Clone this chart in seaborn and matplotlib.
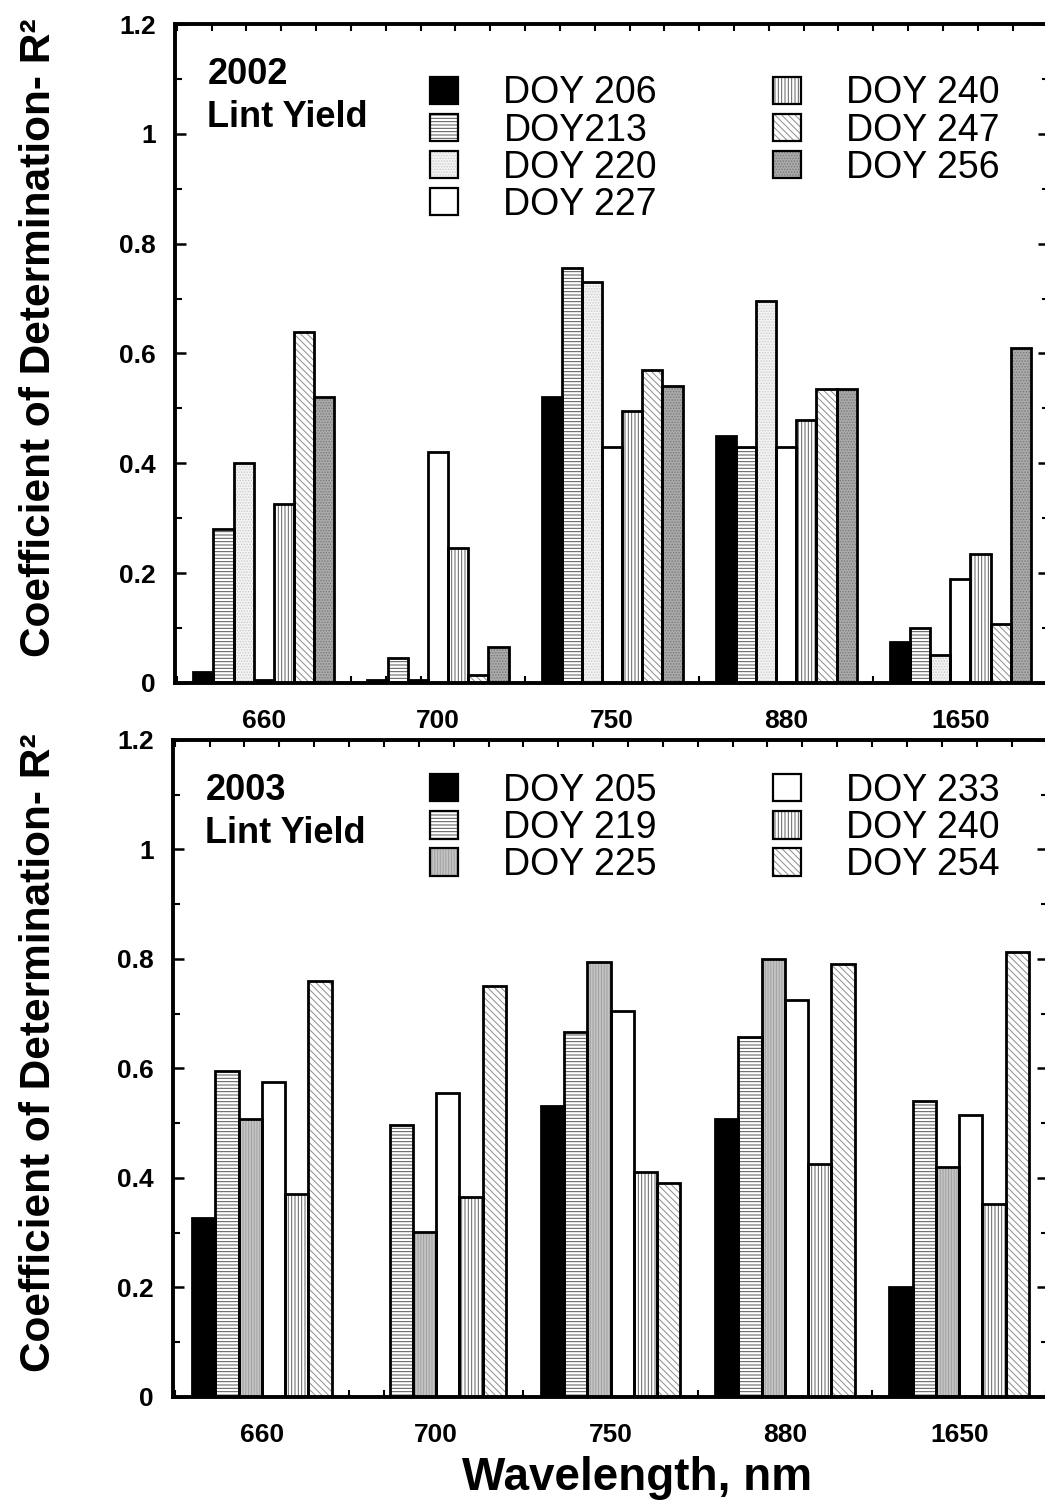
import matplotlib
matplotlib.use("Agg")
import matplotlib.pyplot as plt
import numpy as np
import pandas as pd
import seaborn as sns
from matplotlib.patches import Patch
from matplotlib.legend_handler import HandlerTuple
from matplotlib.ticker import MultipleLocator, FixedLocator

# ---- data ----
wavelengths = ["660", "700", "750", "880", "1650"]
y_ticks = [0, 0.2, 0.4, 0.6, 0.8, 1.0, 1.2]
y_tick_labels = ["0", "0.2", "0.4", "0.6", "0.8", "1", "1.2"]

doy_2002 = ["DOY 206", "DOY213", "DOY 220", "DOY 227", "DOY 240", "DOY 247", "DOY 256"]
r2_2002 = {
    "DOY 206": [0.02, 0.005, 0.52, 0.45, 0.075],
    "DOY213":  [0.28, 0.045, 0.755, 0.43, 0.10],
    "DOY 220": [0.40, 0.005, 0.73, 0.695, 0.05],
    "DOY 227": [0.005, 0.42, 0.43, 0.43, 0.19],
    "DOY 240": [0.325, 0.245, 0.495, 0.478, 0.235],
    "DOY 247": [0.64, 0.015, 0.57, 0.535, 0.108],
    "DOY 256": [0.52, 0.065, 0.54, 0.535, 0.61],
}

doy_2003 = ["DOY 205", "DOY 219", "DOY 225", "DOY 233", "DOY 240", "DOY 254"]
r2_2003 = {
    "DOY 205": [0.327, 0.0, 0.532, 0.507, 0.20],
    "DOY 219": [0.595, 0.497, 0.667, 0.657, 0.54],
    "DOY 225": [0.507, 0.302, 0.795, 0.80, 0.42],
    "DOY 233": [0.575, 0.555, 0.705, 0.725, 0.515],
    "DOY 240": [0.37, 0.365, 0.41, 0.425, 0.352],
    "DOY 254": [0.76, 0.75, 0.39, 0.79, 0.812],
}

# fill style per series: (facecolor, hatch, hatch colour)
style_2002 = {
    "DOY 206": ("black", "", "black"),
    "DOY213":  ("white", "-----", "#555555"),
    "DOY 220": ("#f3f3f3", "......", "#cccccc"),
    "DOY 227": ("white", "", "white"),
    "DOY 240": ("white", "|||||", "#606060"),
    "DOY 247": ("white", "\\\\\\\\\\", "#8c8c8c"),
    "DOY 256": ("#aaaaaa", "......", "#7a7a7a"),
}
style_2003 = {
    "DOY 205": ("black", "", "black"),
    "DOY 219": ("white", "-----", "#555555"),
    "DOY 225": ("#c4c4c4", "||||||", "#a0a0a0"),
    "DOY 233": ("white", "", "white"),
    "DOY 240": ("white", "|||||", "#606060"),
    "DOY 254": ("white", "\\\\\\\\\\", "#8c8c8c"),
}


def long_table(series, order):
    rows = []
    for doy in order:
        for wl, v in zip(wavelengths, series[doy]):
            rows.append({"wavelength": wl, "doy": doy, "r2": v})
    return pd.DataFrame(rows)


sns.set_theme(style="white")
plt.rcParams["font.family"] = ["Liberation Sans", "DejaVu Sans"]
plt.rcParams["text.color"] = "black"
plt.rcParams["xtick.color"] = "black"
plt.rcParams["ytick.color"] = "black"
plt.rcParams["hatch.linewidth"] = 0.7

fig = plt.figure(figsize=(10.45, 15), dpi=100)
ax1 = fig.add_axes([0.1675, 0.5447, 0.8365, 0.4393])
ax2 = fig.add_axes([0.1655, 0.0687, 0.8375, 0.4380])


def draw_panel(ax, series, order, style, year, legend_anchor, width, colspace):
    df = long_table(series, order)
    faces = {k: style[k][0] for k in order}
    sns.barplot(data=df, x="wavelength", y="r2", hue="doy", order=wavelengths,
                hue_order=order, palette=faces, saturation=1, width=width,
                errorbar=None, linewidth=0, legend=False, ax=ax)
    for cont, doy in zip(ax.containers, order):
        for bar in cont:
            bar.set_hatch(style[doy][1])
            bar.set_edgecolor(style[doy][2])
            bar.set_linewidth(0)
    # black outlines on top
    sns.barplot(data=df, x="wavelength", y="r2", hue="doy", order=wavelengths,
                hue_order=order, palette={k: "black" for k in order}, fill=False,
                width=width, errorbar=None, linewidth=2, legend=False, ax=ax)

    ax.set_ylim(0, 1.2)
    ax.set_xlim(-0.51, 4.51)
    ax.yaxis.set_major_locator(FixedLocator(y_ticks))
    ax.yaxis.set_minor_locator(MultipleLocator(0.1))
    ax.set_yticklabels(y_tick_labels)
    ax.xaxis.set_minor_locator(FixedLocator(np.arange(-0.5, 4.6, 0.2)))
    ax.tick_params(axis="x", which="major", length=0, pad=19)
    ax.tick_params(axis="both", which="minor", direction="in", length=5, width=1.5,
                   top=True, bottom=True, left=True, right=True)
    ax.tick_params(axis="y", which="major", direction="in", length=8, width=1.8,
                   left=True, right=True, pad=14)
    for lab in ax.get_xticklabels() + ax.get_yticklabels():
        lab.set_fontsize(19)
        lab.set_fontweight("bold")
        lab.set_color("black")
    ax.set_xlabel("")
    ax.set_ylabel("")
    for sp in ax.spines.values():
        sp.set_visible(True)
        sp.set_color("black")
        sp.set_linewidth(2.8)

    ax.text(0.037, 0.95, f"{year}\nLint Yield", transform=ax.transAxes,
            fontsize=26, fontweight="bold", va="top", ha="left", linespacing=1.3)

    handles = []
    for doy in order:
        fc, h, hc = style[doy]
        handles.append((Patch(facecolor=fc, edgecolor=hc, hatch=h, linewidth=0),
                        Patch(facecolor="none", edgecolor="black", linewidth=1.6)))
    ax.legend(handles, order, handler_map={tuple: HandlerTuple(ndivide=1)},
              loc="upper left", bbox_to_anchor=legend_anchor, ncol=2,
              frameon=False, fontsize=27, handlelength=0.75, handleheight=0.75,
              handletextpad=1.2, columnspacing=colspace, labelspacing=0.03,
              borderpad=0, borderaxespad=0)


draw_panel(ax1, r2_2002, doy_2002, style_2002, "2002", (0.292, 0.922), 0.81, 3.1)
draw_panel(ax2, r2_2003, doy_2003, style_2003, "2003", (0.294, 0.95), 0.80, 3.1)

fig.text(0.037, 0.775, "Coefficient of Determination- R²", rotation=90,
         ha="center", va="center", fontsize=30.5, fontweight="bold")
fig.text(0.037, 0.298, "Coefficient of Determination- R²", rotation=90,
         ha="center", va="center", fontsize=30.5, fontweight="bold")
fig.text(0.61, 0.0147, "Wavelength, nm", ha="center", va="center",
         fontsize=33, fontweight="bold")

fig.savefig("out.png", dpi=100)
